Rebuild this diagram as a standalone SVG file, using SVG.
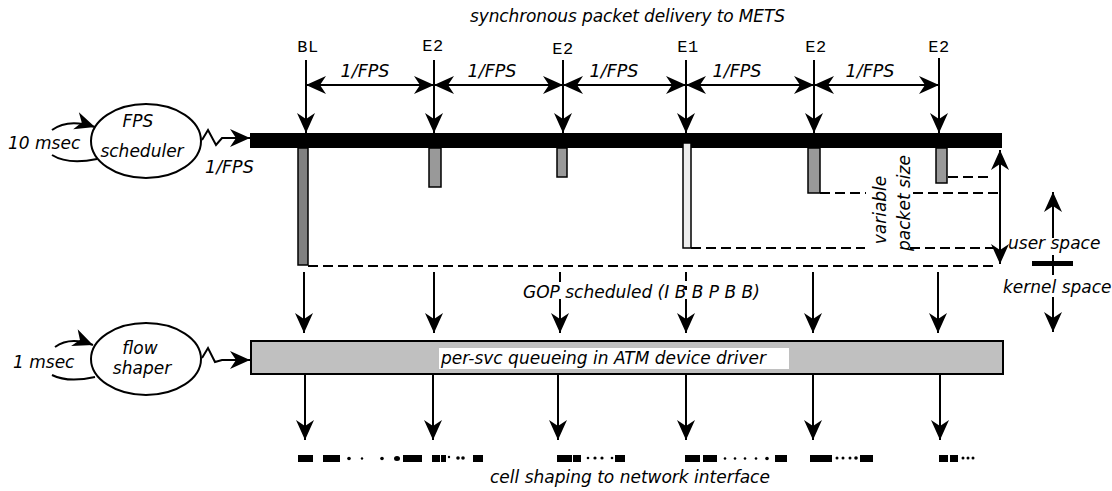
<svg xmlns="http://www.w3.org/2000/svg" width="1112" height="491" viewBox="0 0 1112 491">
<style>
.t{font-family:"DejaVu Sans",Verdana,sans-serif;font-style:italic;font-size:17px;fill:#000}
.f{font-size:17.5px}
.m{font-family:"Liberation Mono","Courier New",monospace;font-size:17px;letter-spacing:0.5px;fill:#000}
.ln{stroke:#000;stroke-width:2;fill:none}
.ar{stroke:#000;stroke-width:2;fill:none;marker-end:url(#ah)}
.dar{stroke:#000;stroke-width:2;fill:none;marker-end:url(#ah);marker-start:url(#ah)}
.dash{stroke:#000;stroke-width:2;fill:none;stroke-dasharray:10 5}
.pk{stroke:#000;stroke-width:1.5}
.cell{fill:#000}
</style>
<defs>
<marker id="ah" markerUnits="userSpaceOnUse" markerWidth="24" markerHeight="24" viewBox="-22 -12 24 24" refX="0" refY="0" orient="auto-start-reverse">
<path d="M0,0 L-20,-9 L-14,0 L-20,9 Z" fill="#000"/>
</marker>
</defs>
<rect width="1112" height="491" fill="#fff"/>

<text class="t" x="470" y="22" font-size="15" textLength="315" lengthAdjust="spacing">synchronous packet delivery to METS</text>

<g id="fps-scheduler">
<ellipse cx="146" cy="141" rx="55" ry="37" fill="#fff" stroke="#000" stroke-width="2"/>
<text class="t" x="138" y="127" text-anchor="middle">FPS</text>
<text class="t" x="142" y="157" text-anchor="middle">scheduler</text>
</g>
<g id="flow-shaper">
<ellipse cx="146" cy="359" rx="55" ry="36" fill="#fff" stroke="#000" stroke-width="2"/>
<text class="t" x="140" y="354" text-anchor="middle">flow</text>
<text class="t" x="142" y="374" text-anchor="middle">shaper</text>
</g>

<g id="user-bar">
<rect x="250" y="133" width="752" height="15" fill="#000"/>
</g>
<g id="packets">
<rect class="pk" x="298" y="148" width="10" height="117" fill="#808080"/>
<rect class="pk" x="429" y="148" width="12" height="39" fill="#999"/>
<rect class="pk" x="557" y="148" width="10" height="29" fill="#999"/>
<rect class="pk" x="683" y="143" width="8" height="105" fill="#eee"/>
<rect class="pk" x="808" y="148" width="12" height="45" fill="#999"/>
<rect class="pk" x="936" y="148" width="11" height="35" fill="#999"/>
</g>
<g id="atm-driver">
<rect x="251" y="341" width="752" height="33" fill="#c0c0c0" stroke="#000" stroke-width="2"/>
<rect x="439" y="348" width="350" height="21" fill="#fff"/>
<text class="t" x="441" y="364" font-size="15.5">per-svc queueing in ATM device driver</text>
</g>

<g id="labels">
<text class="m" x="308" y="52" text-anchor="middle">BL</text>
<text class="m" x="433" y="51" text-anchor="middle">E2</text>
<text class="m" x="563" y="54" text-anchor="middle">E2</text>
<text class="m" x="688" y="52" text-anchor="middle">E1</text>
<text class="m" x="816" y="52" text-anchor="middle">E2</text>
<text class="m" x="939" y="52" text-anchor="middle">E2</text>
<text class="t f" x="365" y="77" text-anchor="middle">1/FPS</text>
<text class="t f" x="492" y="77" text-anchor="middle">1/FPS</text>
<text class="t f" x="614" y="77" text-anchor="middle">1/FPS</text>
<text class="t f" x="737" y="77" text-anchor="middle">1/FPS</text>
<text class="t f" x="870" y="77" text-anchor="middle">1/FPS</text>
<text class="t" x="8" y="149">10 msec</text>
<text class="t f" x="205" y="173">1/FPS</text>
<text class="t" x="13" y="368">1 msec</text>
<text class="t" x="523" y="298" font-size="15.5">GOP scheduled (I B B P B B)</text>
<text class="t" x="1008" y="249" font-size="16.5">user space</text>
<text class="t" x="1003" y="293" font-size="16.3">kernel space</text>
<text class="t" x="490" y="483" font-size="15.3">cell shaping to network interface</text>
<text class="t" transform="translate(886 210) rotate(-90)" text-anchor="middle">variable</text>
<text class="t" transform="translate(910 203) rotate(-90)" text-anchor="middle">packet size</text>
</g>

<g id="connectors">
<path class="ar" d="M306 60V133"/>
<path class="ar" d="M434 60V133"/>
<path class="ar" d="M563 60V133"/>
<path class="ar" d="M686 60V133"/>
<path class="ar" d="M814 60V133"/>
<path class="ar" d="M939 58V133"/>
<path class="dar" d="M306 85H434"/>
<path class="dar" d="M434 85H563"/>
<path class="dar" d="M563 85H686"/>
<path class="dar" d="M686 85H814"/>
<path class="dar" d="M814 85H939"/>
<path class="ar" d="M52 130Q68 118 95 127"/>
<path class="ln" d="M52 155Q68 165 97 159"/>
<path class="ar" d="M202 140L208 130L216 145L222 138H250"/>
<path class="ar" d="M55 347Q70 336 93 345"/>
<path class="ln" d="M52 375Q68 383 95 377"/>
<path class="ar" d="M202 358L208 348L215 362L222 360H250"/>
<path class="dash" d="M948 177H992"/>
<path class="dash" d="M820 193H866M913 193H998"/>
<path class="dash" d="M691 248H865M910 248H995"/>
<path class="dash" d="M308 266H995"/>
<path class="dar" d="M1000 150V264"/>
<path class="ar" d="M1053 238V192"/>
<path class="ln" d="M1053 255V275"/>
<rect x="1032" y="261" width="41" height="5" fill="#000"/>
<path class="ar" d="M1053 297V332"/>
<path class="ar" d="M304 272V333"/>
<path class="ar" d="M434 272V333"/>
<path class="ln" d="M560 272V282"/>
<path class="ar" d="M560 299V333"/>
<path class="ln" d="M686 272V281M686 286V290"/>
<path class="ar" d="M686 299V333"/>
<path class="ar" d="M813 272V333"/>
<path class="ar" d="M938 272V333"/>
<path class="ar" d="M305 374V440"/>
<path class="ar" d="M433 374V440"/>
<path class="ar" d="M558 374V440"/>
<path class="ar" d="M686 374V440"/>
<path class="ar" d="M813 374V440"/>
<path class="ar" d="M940 374V440"/>
</g>

<g id="cells" class="cell">
<rect x="298" y="455" width="15" height="7"/><rect x="323" y="455" width="17" height="7"/>
<circle cx="349" cy="458.5" r="1.8"/><circle cx="362" cy="458.5" r="1.2"/><circle cx="382" cy="458.5" r="1.8"/>
<ellipse cx="397" cy="458.5" rx="3" ry="2.5"/><rect x="403" y="455" width="19" height="7"/>
<rect x="432" y="455" width="8" height="7"/><rect x="441" y="455" width="5" height="7"/>
<circle cx="449" cy="457" r="1.2"/><circle cx="458" cy="458" r="1.8"/><circle cx="463" cy="458" r="1.8"/>
<rect x="473" y="455" width="10" height="7"/>
<rect x="557" y="455" width="15" height="7"/><rect x="573" y="455" width="8" height="7"/>
<circle cx="588" cy="458" r="1.3"/><circle cx="595" cy="458" r="1.6"/><circle cx="602" cy="458" r="1.6"/><circle cx="612" cy="458" r="1.3"/>
<rect x="615" y="455" width="10" height="7"/>
<rect x="685" y="455" width="15" height="7"/><rect x="703" y="455" width="14" height="7"/>
<circle cx="725" cy="458.5" r="1.3"/><circle cx="735" cy="458.5" r="1.3"/><circle cx="745" cy="458.5" r="1.3"/><circle cx="756" cy="458.5" r="1.3"/><circle cx="767" cy="458.5" r="1.8"/>
<rect x="775" y="455" width="12" height="7"/>
<rect x="810" y="455" width="22" height="7"/>
<circle cx="837" cy="458" r="1.5"/><circle cx="843" cy="458" r="1.5"/><circle cx="850" cy="458" r="1.5"/><circle cx="856" cy="458" r="1.8"/>
<rect x="860" y="455" width="13" height="7"/>
<rect x="939" y="455" width="9" height="7"/><rect x="950" y="455" width="8" height="7"/>
<circle cx="963" cy="458" r="1.5"/><circle cx="968" cy="458" r="1.5"/><circle cx="973" cy="458" r="1.5"/>
</g>
</svg>
